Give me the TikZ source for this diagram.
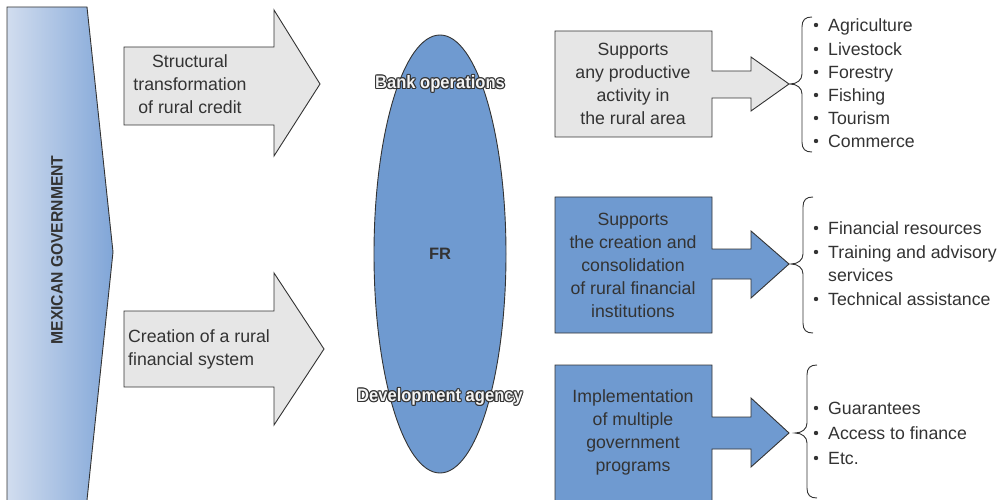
\documentclass[tikz,border=0pt]{standalone}
\usepackage{fontspec}
\setmainfont{Liberation Sans}
\newfontfamily\condfont{Liberation Sans}[FakeStretch=0.92]
\newfontfamily\govfont{Liberation Sans}[FakeStretch=0.95]
\usetikzlibrary{calc}
\definecolor{ink}{HTML}{333333}
\definecolor{boxgray}{HTML}{E6E6E6}
\definecolor{fblue}{RGB}{111,154,208}
\definecolor{govlight}{RGB}{214,224,240}
\definecolor{govdark}{RGB}{88,138,204}
\definecolor{outfill}{HTML}{F4F4F4}
\pgfdeclarehorizontalshading{govshade}{100bp}{color(0bp)=(govlight); color(22bp)=(govlight); color(100bp)=(govdark)}
\newcommand\curlybrace[4]{%
  \pgfmathsetmacro\vx{#1+12}\pgfmathsetmacro\rx{#1+22}%
  \draw[line] (\rx,#3) .. controls (\vx+3,#3) and (\vx,#3+3) .. (\vx,#3+10) -- (\vx,#2-10)
    .. controls (\vx,#2-4) and (#1+7,#2) .. (#1,#2)
    .. controls (#1+7,#2) and (\vx,#2+4) .. (\vx,#2+10) -- (\vx,#4-10)
    .. controls (\vx,#4-3) and (\vx+3,#4) .. (\rx,#4);}
\newcommand\outlinetext[1]{%
  \foreach \dx/\dy in {-1.1/0,1.1/0,0/-1.1,0/1.1,-0.8/-0.8,0.8/0.8,-0.8/0.8,0.8/-0.8}{%
    \rlap{\hspace*{\dx pt}\raisebox{\dy pt}{\textcolor{ink}{#1}}}}%
  \textcolor{outfill}{#1}}
\begin{document}
\begin{tikzpicture}[x=1pt,y=-1pt,
  line/.style={draw=ink,line width=0.9pt,line join=miter},
  txt/.style={text=ink,font=\fontsize{17.7}{23}\selectfont,align=center,inner sep=0pt},
  item/.style={text=ink,font=\fontsize{17.7}{23}\selectfont,inner sep=0pt,anchor=base west},
  outl/.style={font=\condfont\bfseries\fontsize{18}{20}\selectfont,inner sep=0pt},
  bul/.style={fill=ink}]
\useasboundingbox (0,0) rectangle (1002,500);
% government
\shade[shading=govshade] (7,7) -- (87,7) -- (113,252) -- (87,500) -- (7,500) -- cycle;
\draw[line] (7,500) -- (7,7) -- (87,7) -- (113,252) -- (87,500);
\node[rotate=90,text=ink,font=\govfont\bfseries\fontsize{16.5}{18}\selectfont,inner sep=0pt] (gov) at (57,250) {MEXICAN GOVERNMENT};
% left arrows
\draw[line,fill=boxgray] (124,47) -- (274,47) -- (274,10) -- (320,84) -- (274,156) -- (274,125) -- (124,125) -- cycle;
\node[txt] (a1) at (190,84) {Structural\\transformation\\of rural credit};
\draw[line,fill=boxgray] (124,311) -- (274,311) -- (274,273) -- (324,349) -- (274,425) -- (274,387) -- (124,387) -- cycle;
\node[txt,align=left,anchor=west] (a2) at (128,349) {Creation of a rural\\financial system};
% ellipse
\draw[line,fill=fblue] (440,254) ellipse [x radius=66, y radius=219];
\node[text=ink,font=\bfseries\fontsize{16.5}{18}\selectfont,inner sep=0pt] (fr) at (440,254) {FR};
\node[outl] (bank) at (440,84) {\outlinetext{Bank operations}};
\node[outl] (dev) at (440,397) {\outlinetext{Development agency}};
% right boxes
\draw[line,fill=boxgray] (555,31) -- (712,31) -- (712,71) -- (751,71) -- (751,57) -- (789,84) -- (751,111) -- (751,98) -- (712,98) -- (712,137) -- (555,137) -- cycle;
\node[txt] (b1) at (633,84) {Supports\\any productive\\activity in\\the rural area};
\draw[line,fill=fblue] (555,197) -- (712,197) -- (712,249) -- (751,249) -- (751,231) -- (789,264) -- (751,298) -- (751,279) -- (712,279) -- (712,333) -- (555,333) -- cycle;
\node[txt] (b2) at (633,265) {Supports\\the creation and\\consolidation\\of rural financial\\institutions};
\draw[line,fill=fblue] (555,510) -- (555,365) -- (712,365) -- (712,417) -- (751,417) -- (751,398) -- (789,433) -- (751,467) -- (751,449) -- (712,449) -- (712,510);
\node[txt] (b3) at (633,432) {Implementation\\of multiple\\government\\programs};
% braces
\curlybrace{790}{84}{17}{152}
\curlybrace{791}{264}{197}{333}
\curlybrace{795}{433}{365}{498}
% lists
\foreach \y/\t [count=\i] in {25/Agriculture,49/Livestock,72/Forestry,95/Fishing,118/Tourism,141/Commerce}{
  \fill[bul] (816,\y) circle (2.2);
  \node[item] (l1\i) at (828,\y+6.3) {\t};}
\foreach \y/\t [count=\i] in {228/Financial resources,252/Training and advisory,299/Technical assistance}{
  \fill[bul] (816,\y) circle (2.2);
  \node[item] (l2\i) at (828,\y+6.3) {\t};}
\node[item] (l2s) at (828,281.3) {services};
\foreach \y/\t [count=\i] in {408/Guarantees,433/Access to finance,458/Etc.}{
  \fill[bul] (816,\y) circle (2.2);
  \node[item] (l3\i) at (828,\y+6.3) {\t};}
\end{tikzpicture}
\end{document}
